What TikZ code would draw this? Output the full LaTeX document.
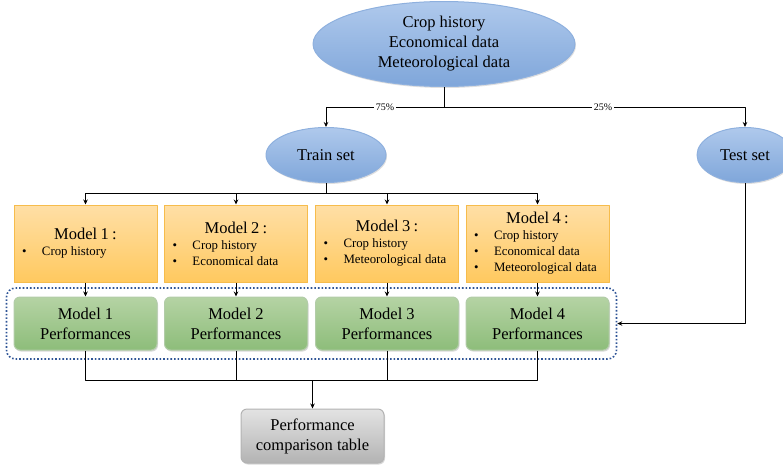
\documentclass[tikz,border=0pt]{standalone}
\usepackage{fontspec}
\setmainfont{Liberation Serif}
\usepackage{tikz}
\usetikzlibrary{arrows.meta, shapes.geometric, fit, shadows}
\usepackage{xcolor}

\definecolor{blueTop}{HTML}{AFC9EC}
\definecolor{blueBot}{HTML}{7FA6DA}
\definecolor{blueLine}{HTML}{8EB0DE}
\definecolor{orangeTop}{HTML}{FFDFA6}
\definecolor{orangeBot}{HTML}{FFC95F}
\definecolor{orangeLine}{HTML}{F6BC4C}
\definecolor{greenTop}{HTML}{B5D3A4}
\definecolor{greenBot}{HTML}{8DBD7A}
\definecolor{greyTop}{HTML}{E3E3E3}
\definecolor{greyBot}{HTML}{B3B3B3}
\definecolor{dotBlue}{HTML}{2F5597}

\newcommand{\titlefont}{\fontsize{16.5}{20}\selectfont}
\newcommand{\listfont}{\fontsize{12.8}{16}\selectfont}
\newcommand{\bul}{\makebox[20pt][l]{\textbullet}}

\begin{document}
\begin{tikzpicture}[x=1pt, y=-1pt, line join=round,
    dataset/.style={ellipse, draw=blueLine, top color=blueTop, bottom color=blueBot,
        align=center, inner sep=0pt, font=\titlefont,
        drop shadow={opacity=0.25, shadow xshift=1pt, shadow yshift=-1.5pt}},
    modelbox/.style={rectangle, draw=orangeLine, top color=orangeTop, bottom color=orangeBot,
        minimum width=143pt, minimum height=77pt, text width=127pt, inner xsep=8pt},
    perfbox/.style={rectangle, rounded corners=6pt, draw=greenBot!90!black!60, top color=greenTop,
        bottom color=greenBot, minimum width=143pt, minimum height=53pt,
        align=center, font=\titlefont,
        drop shadow={opacity=0.3, shadow xshift=1pt, shadow yshift=-1.5pt}},
    tablebox/.style={rectangle, rounded corners=6pt, draw=greyBot, top color=greyTop,
        bottom color=greyBot, minimum width=143pt, minimum height=54pt,
        align=center, font=\titlefont,
        drop shadow={opacity=0.3, shadow xshift=1pt, shadow yshift=-1.5pt}},
    share/.style={fill=white, inner sep=2pt, font=\fontsize{10}{11}\selectfont},
    arr/.style={-{Stealth[length=5pt, width=4.5pt]}},
    every path/.style={line width=1pt}]

    \useasboundingbox (0,0) rectangle (783,464);

    % Full data set and the 75/25 split
    \node[dataset, minimum width=262pt, minimum height=85pt] (data) at (444,44)
        {Crop history\\Economical data\\Meteorological data};
    \node[dataset, minimum width=120pt, minimum height=55pt] (train) at (326,155) {Train set};
    \node[dataset, minimum width=96pt,  minimum height=55pt] (test)  at (745,155) {Test set};

    % Four models, each fed a different set of features
    \node[modelbox] (m1) at (85.5,243.5)
        {\centering\titlefont Model 1 :\par\raggedright\listfont
         \bul Crop history\par};
    \node[modelbox] (m2) at (236,243.5)
        {\centering\titlefont Model 2 :\par\raggedright\listfont
         \bul Crop history\par\bul Economical data\par};
    \node[modelbox] (m3) at (387,243.5)
        {\centering\titlefont Model 3 :\par\raggedright\listfont
         \bul Crop history\par\bul Meteorological data\par};
    \node[modelbox] (m4) at (537.5,243.5)
        {\centering\titlefont Model 4 :\par\raggedright\listfont
         \bul Crop history\par\bul Economical data\par\bul Meteorological data\par};

    % Performances of each model, grouped by a dotted frame
    \node[perfbox] (p1) at (85.5,323.5)  {Model 1\\Performances};
    \node[perfbox] (p2) at (236,323.5)   {Model 2\\Performances};
    \node[perfbox] (p3) at (387,323.5)   {Model 3\\Performances};
    \node[perfbox] (p4) at (537.5,323.5) {Model 4\\Performances};
    \node[draw=dotBlue, dotted, line width=1.6pt, rounded corners=9pt,
          inner xsep=7pt, inner ysep=8.5pt, fit=(p1)(p4)] (perf) {};

    \node[tablebox] (cmp) at (312.5,436) {Performance\\comparison table};

    % Junction points of the connectors
    \coordinate (split) at (444,107);
    \coordinate (tbus)  at (326,193);
    \coordinate (bus)   at (312.5,380);

    \draw (data.south) -- (split);
    \draw[arr] (split) -| (train.north) node[share, pos=0.25] {75\%};
    \draw[arr] (split) -| (test.north)  node[share, pos=0.264] {25\%};

    \draw (train.south) -- (tbus);
    \foreach \m in {m1, m2, m3, m4}
        \draw[arr] (tbus) -| (\m.north);
    \foreach \m [count=\i] in {m1, m2, m3, m4}
        \draw[arr] (\m.south) -- (p\i.north);

    \draw[arr] (test.south) |- (perf.east);

    \foreach \p in {p1, p2, p3, p4}
        \draw (\p.south) |- (bus);
    \draw[arr] (bus) -- (cmp.north);

\end{tikzpicture}
\end{document}
